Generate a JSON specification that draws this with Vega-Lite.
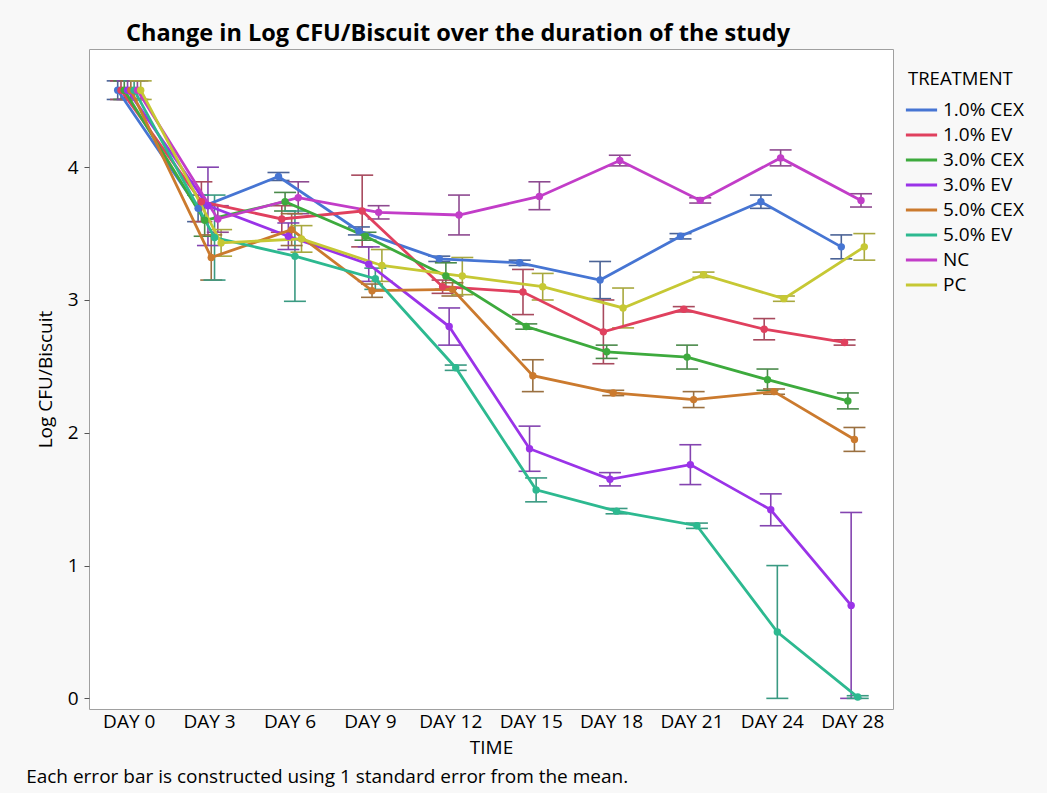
{
  "$schema": "https://vega.github.io/schema/vega-lite/v6.json",
  "background": "#F8F8F8",
  "padding": {"left": 25, "top": 22, "right": 150, "bottom": 8},
  "title": {
    "text": "Change in Log CFU/Biscuit over the duration of the study",
    "fontSize": 23.5, "fontWeight": "bold", "font": "Open Sans", "color": "#000000",
    "anchor": "middle", "frame": "group", "offset": 3, "dx": -33
  },
  "datasets": {
    "d": [
      {"TIME": "DAY 0", "TREATMENT": "1.0% CEX", "mean": 4.58, "lo": 4.51, "hi": 4.65},
      {"TIME": "DAY 3", "TREATMENT": "1.0% CEX", "mean": 3.69, "lo": 3.59, "hi": 3.79},
      {"TIME": "DAY 6", "TREATMENT": "1.0% CEX", "mean": 3.93, "lo": 3.9, "hi": 3.96},
      {"TIME": "DAY 9", "TREATMENT": "1.0% CEX", "mean": 3.52, "lo": 3.49, "hi": 3.55},
      {"TIME": "DAY 12", "TREATMENT": "1.0% CEX", "mean": 3.31, "lo": 3.29, "hi": 3.33},
      {"TIME": "DAY 15", "TREATMENT": "1.0% CEX", "mean": 3.28, "lo": 3.26, "hi": 3.3},
      {"TIME": "DAY 18", "TREATMENT": "1.0% CEX", "mean": 3.15, "lo": 3.01, "hi": 3.29},
      {"TIME": "DAY 21", "TREATMENT": "1.0% CEX", "mean": 3.48, "lo": 3.46, "hi": 3.5},
      {"TIME": "DAY 24", "TREATMENT": "1.0% CEX", "mean": 3.74, "lo": 3.69, "hi": 3.79},
      {"TIME": "DAY 28", "TREATMENT": "1.0% CEX", "mean": 3.4, "lo": 3.31, "hi": 3.49},

      {"TIME": "DAY 0", "TREATMENT": "1.0% EV", "mean": 4.58, "lo": 4.51, "hi": 4.65},
      {"TIME": "DAY 3", "TREATMENT": "1.0% EV", "mean": 3.74, "lo": 3.59, "hi": 3.89},
      {"TIME": "DAY 6", "TREATMENT": "1.0% EV", "mean": 3.61, "lo": 3.51, "hi": 3.71},
      {"TIME": "DAY 9", "TREATMENT": "1.0% EV", "mean": 3.67, "lo": 3.4, "hi": 3.94},
      {"TIME": "DAY 12", "TREATMENT": "1.0% EV", "mean": 3.1, "lo": 3.05, "hi": 3.15},
      {"TIME": "DAY 15", "TREATMENT": "1.0% EV", "mean": 3.06, "lo": 2.89, "hi": 3.23},
      {"TIME": "DAY 18", "TREATMENT": "1.0% EV", "mean": 2.76, "lo": 2.52, "hi": 3.0},
      {"TIME": "DAY 21", "TREATMENT": "1.0% EV", "mean": 2.93, "lo": 2.91, "hi": 2.95},
      {"TIME": "DAY 24", "TREATMENT": "1.0% EV", "mean": 2.78, "lo": 2.7, "hi": 2.86},
      {"TIME": "DAY 28", "TREATMENT": "1.0% EV", "mean": 2.68, "lo": 2.66, "hi": 2.7},

      {"TIME": "DAY 0", "TREATMENT": "3.0% CEX", "mean": 4.58, "lo": 4.51, "hi": 4.65},
      {"TIME": "DAY 3", "TREATMENT": "3.0% CEX", "mean": 3.6, "lo": 3.48, "hi": 3.72},
      {"TIME": "DAY 6", "TREATMENT": "3.0% CEX", "mean": 3.74, "lo": 3.67, "hi": 3.81},
      {"TIME": "DAY 9", "TREATMENT": "3.0% CEX", "mean": 3.48, "lo": 3.45, "hi": 3.51},
      {"TIME": "DAY 12", "TREATMENT": "3.0% CEX", "mean": 3.18, "lo": 3.08, "hi": 3.28},
      {"TIME": "DAY 15", "TREATMENT": "3.0% CEX", "mean": 2.8, "lo": 2.78, "hi": 2.82},
      {"TIME": "DAY 18", "TREATMENT": "3.0% CEX", "mean": 2.61, "lo": 2.56, "hi": 2.66},
      {"TIME": "DAY 21", "TREATMENT": "3.0% CEX", "mean": 2.57, "lo": 2.48, "hi": 2.66},
      {"TIME": "DAY 24", "TREATMENT": "3.0% CEX", "mean": 2.4, "lo": 2.32, "hi": 2.48},
      {"TIME": "DAY 28", "TREATMENT": "3.0% CEX", "mean": 2.24, "lo": 2.18, "hi": 2.3},

      {"TIME": "DAY 0", "TREATMENT": "3.0% EV", "mean": 4.58, "lo": 4.51, "hi": 4.65},
      {"TIME": "DAY 3", "TREATMENT": "3.0% EV", "mean": 3.71, "lo": 3.41, "hi": 4.0},
      {"TIME": "DAY 6", "TREATMENT": "3.0% EV", "mean": 3.48, "lo": 3.38, "hi": 3.58},
      {"TIME": "DAY 9", "TREATMENT": "3.0% EV", "mean": 3.27, "lo": 3.14, "hi": 3.4},
      {"TIME": "DAY 12", "TREATMENT": "3.0% EV", "mean": 2.8, "lo": 2.66, "hi": 2.94},
      {"TIME": "DAY 15", "TREATMENT": "3.0% EV", "mean": 1.88, "lo": 1.71, "hi": 2.05},
      {"TIME": "DAY 18", "TREATMENT": "3.0% EV", "mean": 1.65, "lo": 1.6, "hi": 1.7},
      {"TIME": "DAY 21", "TREATMENT": "3.0% EV", "mean": 1.76, "lo": 1.61, "hi": 1.91},
      {"TIME": "DAY 24", "TREATMENT": "3.0% EV", "mean": 1.42, "lo": 1.3, "hi": 1.54},
      {"TIME": "DAY 28", "TREATMENT": "3.0% EV", "mean": 0.7, "lo": 0.0, "hi": 1.4},

      {"TIME": "DAY 0", "TREATMENT": "5.0% CEX", "mean": 4.58, "lo": 4.51, "hi": 4.65},
      {"TIME": "DAY 3", "TREATMENT": "5.0% CEX", "mean": 3.32, "lo": 3.15, "hi": 3.49},
      {"TIME": "DAY 6", "TREATMENT": "5.0% CEX", "mean": 3.53, "lo": 3.41, "hi": 3.65},
      {"TIME": "DAY 9", "TREATMENT": "5.0% CEX", "mean": 3.07, "lo": 3.02, "hi": 3.12},
      {"TIME": "DAY 12", "TREATMENT": "5.0% CEX", "mean": 3.08, "lo": 3.03, "hi": 3.13},
      {"TIME": "DAY 15", "TREATMENT": "5.0% CEX", "mean": 2.43, "lo": 2.31, "hi": 2.55},
      {"TIME": "DAY 18", "TREATMENT": "5.0% CEX", "mean": 2.3, "lo": 2.28, "hi": 2.32},
      {"TIME": "DAY 21", "TREATMENT": "5.0% CEX", "mean": 2.25, "lo": 2.19, "hi": 2.31},
      {"TIME": "DAY 24", "TREATMENT": "5.0% CEX", "mean": 2.31, "lo": 2.29, "hi": 2.33},
      {"TIME": "DAY 28", "TREATMENT": "5.0% CEX", "mean": 1.95, "lo": 1.86, "hi": 2.04},

      {"TIME": "DAY 0", "TREATMENT": "5.0% EV", "mean": 4.58, "lo": 4.51, "hi": 4.65},
      {"TIME": "DAY 3", "TREATMENT": "5.0% EV", "mean": 3.47, "lo": 3.15, "hi": 3.79},
      {"TIME": "DAY 6", "TREATMENT": "5.0% EV", "mean": 3.33, "lo": 2.99, "hi": 3.67},
      {"TIME": "DAY 9", "TREATMENT": "5.0% EV", "mean": 3.16, "lo": 3.08, "hi": 3.24},
      {"TIME": "DAY 12", "TREATMENT": "5.0% EV", "mean": 2.49, "lo": 2.47, "hi": 2.51},
      {"TIME": "DAY 15", "TREATMENT": "5.0% EV", "mean": 1.57, "lo": 1.48, "hi": 1.66},
      {"TIME": "DAY 18", "TREATMENT": "5.0% EV", "mean": 1.41, "lo": 1.39, "hi": 1.43},
      {"TIME": "DAY 21", "TREATMENT": "5.0% EV", "mean": 1.3, "lo": 1.28, "hi": 1.32},
      {"TIME": "DAY 24", "TREATMENT": "5.0% EV", "mean": 0.5, "lo": 0.0, "hi": 1.0},
      {"TIME": "DAY 28", "TREATMENT": "5.0% EV", "mean": 0.01, "lo": 0.0, "hi": 0.02},

      {"TIME": "DAY 0", "TREATMENT": "NC", "mean": 4.58, "lo": 4.51, "hi": 4.65},
      {"TIME": "DAY 3", "TREATMENT": "NC", "mean": 3.61, "lo": 3.51, "hi": 3.71},
      {"TIME": "DAY 6", "TREATMENT": "NC", "mean": 3.77, "lo": 3.65, "hi": 3.89},
      {"TIME": "DAY 9", "TREATMENT": "NC", "mean": 3.66, "lo": 3.61, "hi": 3.71},
      {"TIME": "DAY 12", "TREATMENT": "NC", "mean": 3.64, "lo": 3.49, "hi": 3.79},
      {"TIME": "DAY 15", "TREATMENT": "NC", "mean": 3.78, "lo": 3.68, "hi": 3.89},
      {"TIME": "DAY 18", "TREATMENT": "NC", "mean": 4.05, "lo": 4.01, "hi": 4.09},
      {"TIME": "DAY 21", "TREATMENT": "NC", "mean": 3.75, "lo": 3.73, "hi": 3.77},
      {"TIME": "DAY 24", "TREATMENT": "NC", "mean": 4.07, "lo": 4.01, "hi": 4.13},
      {"TIME": "DAY 28", "TREATMENT": "NC", "mean": 3.75, "lo": 3.7, "hi": 3.8},

      {"TIME": "DAY 0", "TREATMENT": "PC", "mean": 4.58, "lo": 4.51, "hi": 4.65},
      {"TIME": "DAY 3", "TREATMENT": "PC", "mean": 3.43, "lo": 3.33, "hi": 3.53},
      {"TIME": "DAY 6", "TREATMENT": "PC", "mean": 3.46, "lo": 3.36, "hi": 3.56},
      {"TIME": "DAY 9", "TREATMENT": "PC", "mean": 3.26, "lo": 3.14, "hi": 3.38},
      {"TIME": "DAY 12", "TREATMENT": "PC", "mean": 3.18, "lo": 3.04, "hi": 3.32},
      {"TIME": "DAY 15", "TREATMENT": "PC", "mean": 3.1, "lo": 3.0, "hi": 3.2},
      {"TIME": "DAY 18", "TREATMENT": "PC", "mean": 2.94, "lo": 2.79, "hi": 3.09},
      {"TIME": "DAY 21", "TREATMENT": "PC", "mean": 3.19, "lo": 3.17, "hi": 3.21},
      {"TIME": "DAY 24", "TREATMENT": "PC", "mean": 3.01, "lo": 2.99, "hi": 3.03},
      {"TIME": "DAY 28", "TREATMENT": "PC", "mean": 3.4, "lo": 3.3, "hi": 3.5}
    ]
  },
  "vconcat": [
    {
      "width": 804,
      "height": 660,
      "title": {
        "text": "Each error bar is constructed using 1 standard error from the mean.",
        "orient": "bottom", "anchor": "start", "frame": "bounds",
        "fontSize": 19, "fontWeight": "normal", "font": "Open Sans", "color": "#000000",
        "offset": 11, "dx": -10
      },
      "data": {"name": "d"},
      "encoding": {
        "x": {
          "field": "TIME", "type": "ordinal",
          "sort": ["DAY 0", "DAY 3", "DAY 6", "DAY 9", "DAY 12", "DAY 15", "DAY 18", "DAY 21", "DAY 24", "DAY 28"],
          "scale": {"type": "band", "paddingInner": 0, "paddingOuter": 0},
          "axis": {"title": "TIME", "labelAngle": 0, "ticks": false, "domain": false, "labelPadding": 3, "titlePadding": 7}
        },
        "xOffset": {
          "field": "TREATMENT", "type": "nominal",
          "sort": ["1.0% CEX", "1.0% EV", "3.0% CEX", "3.0% EV", "5.0% CEX", "5.0% EV", "NC", "PC"],
          "scale": {"type": "point", "range": [28.7, 51.7], "padding": 0}
        },
        "y": {
          "field": "mean", "type": "quantitative",
          "scale": {"domain": [-0.08, 4.89], "nice": false, "zero": false},
          "axis": {"title": "Log CFU/Biscuit", "values": [0, 1, 2, 3, 4], "format": "d", "grid": false, "domain": false, "tickSize": 5, "tickColor": "#555555", "labelPadding": 6, "titlePadding": 12}
        }
      },
      "layer": [
        {
          "layer": [
            {
              "mark": {"type": "rule", "strokeWidth": 1.6},
              "encoding": {
                "y": {"field": "lo", "type": "quantitative"},
                "y2": {"field": "hi"},
                "color": {"field": "TREATMENT", "type": "nominal", "legend": null,
                  "scale": {"domain": ["1.0% CEX", "1.0% EV", "3.0% CEX", "3.0% EV", "5.0% CEX", "5.0% EV", "NC", "PC"],
                    "range": ["#4B6396", "#A84A5E", "#4A8A4A", "#8444B0", "#9A7040", "#3A9A82", "#8E4A90", "#A8A83E"]}}
              }
            },
            {
              "mark": {"type": "point", "shape": "M-1,0L1,0", "size": 484, "filled": false, "strokeWidth": 1.6, "opacity": 1},
              "encoding": {
                "y": {"field": "lo", "type": "quantitative"},
                "color": {"field": "TREATMENT", "type": "nominal", "legend": null}
              }
            },
            {
              "mark": {"type": "point", "shape": "M-1,0L1,0", "size": 484, "filled": false, "strokeWidth": 1.6, "opacity": 1},
              "encoding": {
                "y": {"field": "hi", "type": "quantitative"},
                "color": {"field": "TREATMENT", "type": "nominal", "legend": null}
              }
            }
          ]
        },
        {
          "layer": [
            {
              "mark": {"type": "line", "strokeWidth": 2.8},
              "encoding": {
                "color": {
                  "field": "TREATMENT", "type": "nominal",
                  "scale": {"domain": ["1.0% CEX", "1.0% EV", "3.0% CEX", "3.0% EV", "5.0% CEX", "5.0% EV", "NC", "PC"],
                    "range": ["#4675D3", "#E0405E", "#3DAA3D", "#9A33E8", "#CB7A2E", "#2DB990", "#C23DC8", "#C6C834"]},
                  "legend": {"title": "TREATMENT", "symbolType": "M-1.3,0L1.3,0", "symbolStrokeWidth": 3, "symbolSize": 576, "orient": "none", "legendX": 819, "legendY": 21}
                }
              }
            },
            {
              "mark": {"type": "circle", "size": 55, "opacity": 1},
              "encoding": {
                "color": {"field": "TREATMENT", "type": "nominal"}
              }
            }
          ]
        }
      ],
      "resolve": {"scale": {"color": "independent"}, "legend": {"color": "independent"}}
    }
  ],
  "config": {
    "font": "Open Sans",
    "view": {"fill": "#FFFFFF", "stroke": "#A0A0A0", "strokeWidth": 1},
    "axis": {"labelFontSize": 19, "titleFontSize": 19, "labelColor": "#000000", "titleColor": "#000000", "titleFontWeight": "normal", "labelFont": "Open Sans", "titleFont": "Open Sans"},
    "legend": {"titleFontSize": 18.5, "labelFontSize": 19, "titleFontWeight": "normal", "titleColor": "#000000", "labelColor": "#000000", "rowPadding": 1, "titlePadding": 8, "labelOffset": 8}
  }
}
